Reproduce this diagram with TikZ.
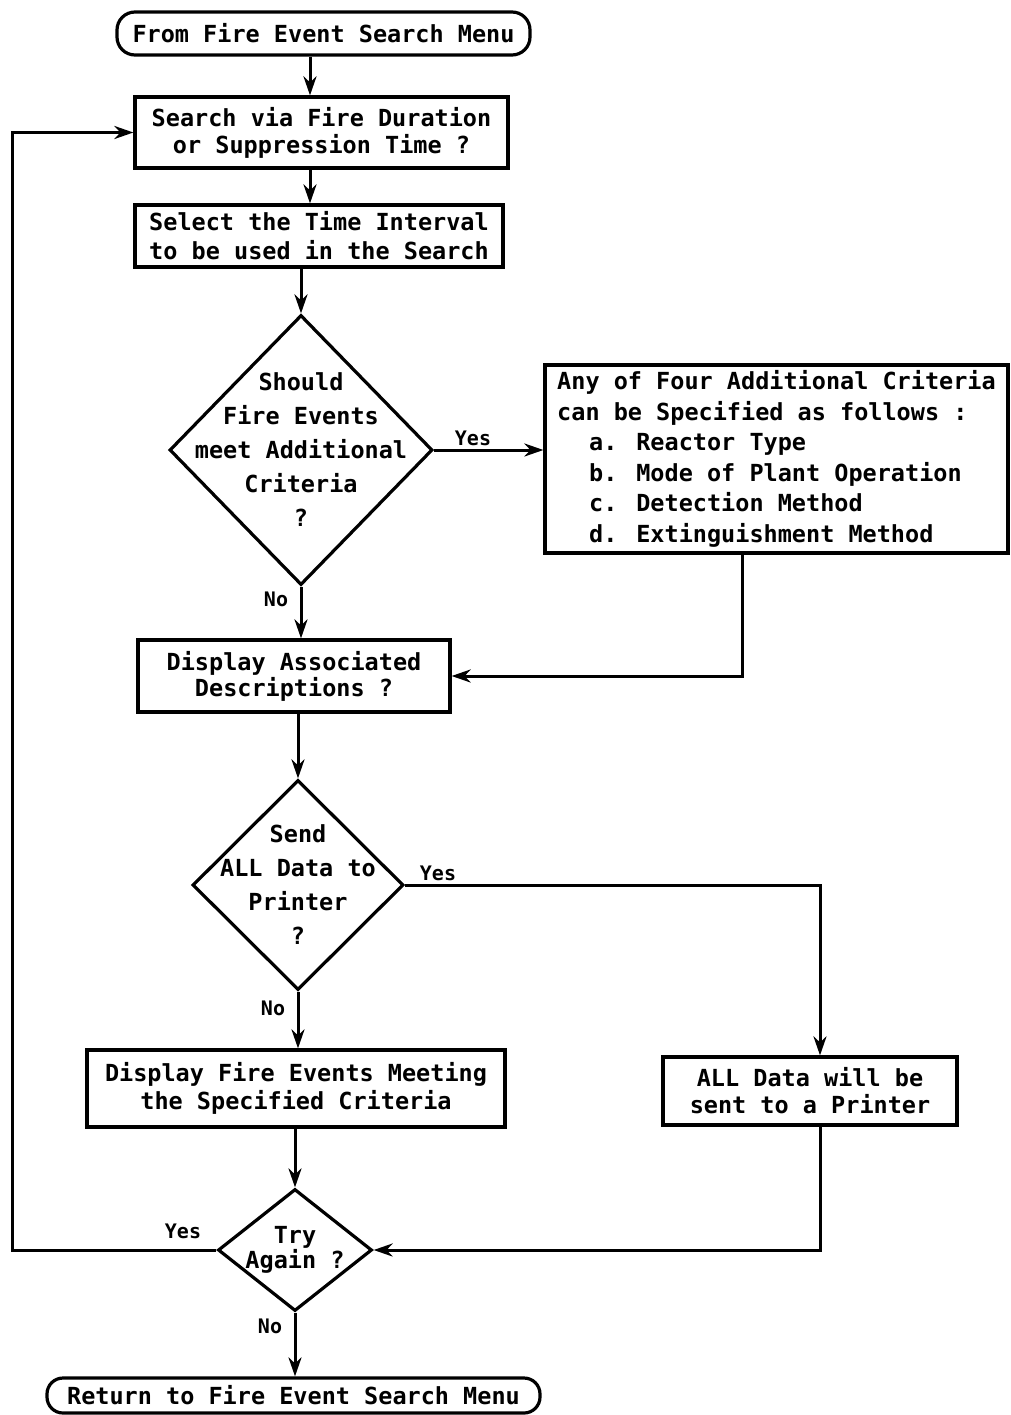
\documentclass[tikz,border=0pt]{standalone}
\usepackage{fontspec}
\newfontfamily\dfont{DejaVu Sans Mono}
\usetikzlibrary{shapes.geometric,arrows.meta}
\begin{document}
\begin{tikzpicture}[x=1pt,y=-1pt,
  every node/.style={font={\dfont\bfseries\fontsize{23.5}{27}\selectfont}},
  box/.style={draw,line width=3.2pt,rectangle,inner sep=0pt,align=center},
  term/.style={box,rounded corners=18pt},
  dec/.style={draw,line width=3.2pt,diamond,inner sep=0pt},
  link/.style={line width=3pt},
  arr/.style={link,-{Stealth[length=19pt,width=13pt,inset=6pt]}},
  lbl/.style={font={\dfont\bfseries\fontsize{20}{22}\selectfont}}
]
\useasboundingbox (0,0) rectangle (1011,1415);

% nodes
\node[term,minimum width=413pt,minimum height=43pt] (start) at (323.5,33.5) {From Fire Event Search Menu};
\node[box,minimum width=373pt,minimum height=71pt,font={\dfont\bfseries\fontsize{23.5}{27}\selectfont}] (b1) at (321.5,132.5)
  {Search via Fire Duration\\or Suppression Time ?};
\node[box,minimum width=368pt,minimum height=62pt,font={\dfont\bfseries\fontsize{23.5}{29}\selectfont}] (b2) at (319,236)
  {Select the Time Interval\\to be used in the Search};
\node[dec,minimum width=263pt,minimum height=270pt] (d1) at (301,450) {};
\node[align=center,font={\dfont\bfseries\fontsize{23.5}{34}\selectfont}] (d1t) at (d1.center)
  {Should\\Fire Events\\meet Additional\\Criteria\\?};
\node[box,minimum width=463pt,minimum height=188pt,align=left,font={\dfont\bfseries\fontsize{23.5}{30.5}\selectfont}] (crit) at (776.5,459)
  {Any of Four Additional Criteria\\can be Specified as follows :\\
   \hspace*{32pt}a. Reactor Type\\
   \hspace*{32pt}b. Mode of Plant Operation\\
   \hspace*{32pt}c. Detection Method\\
   \hspace*{32pt}d. Extinguishment Method};
\node[box,minimum width=312pt,minimum height=72pt,font={\dfont\bfseries\fontsize{23.5}{26}\selectfont}] (b3) at (294,676)
  {Display Associated\\Descriptions ?};
\node[dec,minimum width=211pt,minimum height=210pt] (d2) at (298,885) {};
\node[align=center,font={\dfont\bfseries\fontsize{23.5}{34}\selectfont}] (d2t) at (d2.center)
  {Send\\ALL Data to\\Printer\\?};
\node[box,minimum width=294pt,minimum height=68pt,font={\dfont\bfseries\fontsize{23.5}{27}\selectfont}] (b4) at (810,1091)
  {ALL Data will be\\sent to a Printer};
\node[box,minimum width=418pt,minimum height=77pt,font={\dfont\bfseries\fontsize{23.5}{28}\selectfont}] (b5) at (296,1088.5)
  {Display Fire Events Meeting\\the Specified Criteria};
\node[dec,minimum width=154pt,minimum height=122pt] (d3) at (295,1250) {};
\node[align=center,font={\dfont\bfseries\fontsize{23.5}{25}\selectfont}] (d3t) at (d3.center)
  {Try\\Again ?};
\node[term,minimum width=493pt,minimum height=35pt,rounded corners=16pt] (end) at (293.5,1395.5) {Return to Fire Event Search Menu};

% helper coordinates
\coordinate (c1) at (310,0);
\coordinate (lp) at (12,132.5);
\coordinate (cr) at (742,0);
\coordinate (px) at (820,0);

% connectors
\draw[arr] (start.south -| c1) -- (b1.north -| c1);
\draw[arr] (b1.south -| c1) -- (b2.north -| c1);
\draw[arr] (b2.south -| d1.north) -- (d1.north);
\draw[arr] (d1.east) -- (crit.west |- d1.east);
\draw[arr] (d1.south) -- (b3.north -| d1.south);
\draw[arr] (crit.south -| cr) |- (b3.east);
\draw[arr] (b3.south -| d2.north) -- (d2.north);
\draw[arr] (d2.east) -| (b4.north -| px);
\draw[arr] (d2.south) -- (b5.north -| d2.south);
\draw[arr] (b5.south -| d3.north) -- (d3.north);
\draw[arr] (b4.south -| px) |- (d3.east);
\draw[arr] (d3.west) -| (lp) -- (b1.west);
\draw[arr] (d3.south) -- (end.north -| d3.south);

% labels
\node[lbl] (y1) at (473,438) {Yes};
\node[lbl] (n1) at (276,599) {No};
\node[lbl] (y2) at (438,873) {Yes};
\node[lbl] (n2) at (273,1008) {No};
\node[lbl] (y3) at (183,1231) {Yes};
\node[lbl] (n3) at (270,1326) {No};
\end{tikzpicture}
\end{document}
